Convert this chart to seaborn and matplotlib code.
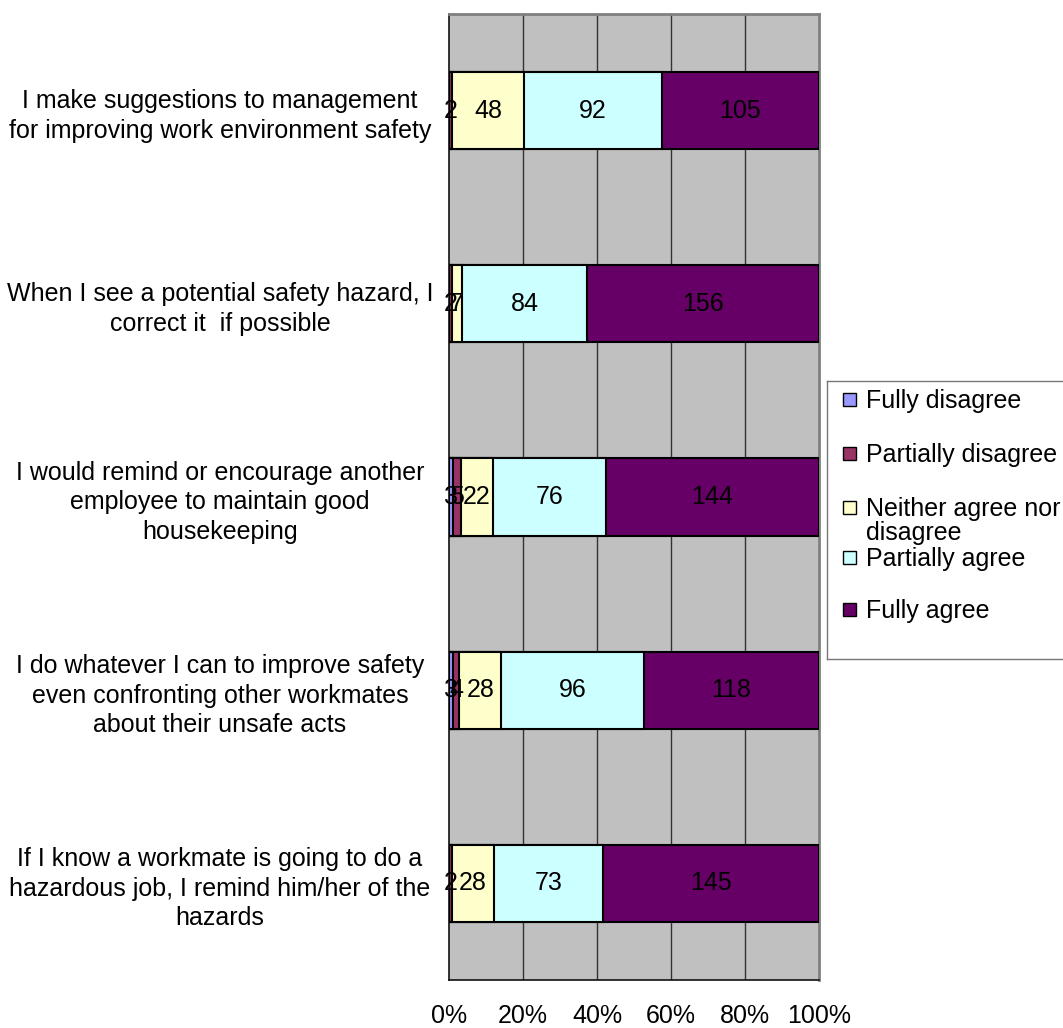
import numpy as np
import pandas as pd
import matplotlib
matplotlib.use("Agg")
import matplotlib.pyplot as plt
from matplotlib.patches import Rectangle
import seaborn as sns

# Survey items (top to bottom)
items = [
    "I make suggestions to management\nfor improving work environment safety",
    "When I see a potential safety hazard, I\ncorrect it  if possible",
    "I would remind or encourage another\nemployee to maintain good\nhousekeeping",
    "I do whatever I can to improve safety\neven confronting other workmates\nabout their unsafe acts",
    "If I know a workmate is going to do a\nhazardous job, I remind him/her of the\nhazards",
]

responses = ["Fully disagree", "Partially disagree", "Neither agree nor\ndisagree",
             "Partially agree", "Fully agree"]

# Response counts per item
fully_disagree = [0, 0, 3, 3, 0]
partially_disagree = [2, 2, 5, 4, 2]
neither = [48, 7, 22, 28, 28]
partially_agree = [92, 84, 76, 96, 73]
fully_agree = [105, 156, 144, 118, 145]

colors = ["#9999FF", "#993366", "#FFFFCC", "#CCFFFF", "#660066"]
xtick_labels = ["0%", "20%", "40%", "60%", "80%", "100%"]

counts = np.array([fully_disagree, partially_disagree, neither,
                   partially_agree, fully_agree], dtype=float).T
totals = counts.sum(axis=1, keepdims=True)
pct = counts / totals * 100
cum = np.cumsum(pct, axis=1)

df = pd.DataFrame({"item": items})
for j in range(len(responses)):
    df[f"cum{j}"] = cum[:, j]

sns.set_style("white")
plt.rcParams["font.family"] = ["Liberation Sans", "DejaVu Sans"]
plt.rcParams["text.color"] = "black"
plt.rcParams["xtick.labelcolor"] = "black"
plt.rcParams["ytick.labelcolor"] = "black"

FS = 18

fig = plt.figure(figsize=(10.63, 10.28), dpi=100)
W, H = 1063, 1028
ax = fig.add_axes([449 / W, 1 - 980 / H, (819 - 449) / W, (980 - 14) / H])
ax.set_facecolor("#C0C0C0")

# Stacked bars: draw cumulative totals from the widest down
for j in reversed(range(len(responses))):
    sns.barplot(data=df, x=f"cum{j}", y="item", orient="h", color=colors[j],
                saturation=1, edgecolor="black", linewidth=1.5, width=0.4,
                errorbar=None, ax=ax, zorder=3)

# Segment labels with the counts
for i in range(len(items)):
    left = 0.0
    for j in range(len(responses)):
        w = pct[i, j]
        if counts[i, j] > 0:
            ax.text(left + w / 2, i, f"{int(counts[i, j])}", ha="center",
                    va="center", fontsize=FS, color="black", zorder=5)
        left += w

ax.set_xlim(0, 100)
ax.set_ylim(len(items) - 0.5, -0.5)
ax.set_xlabel("")
ax.set_ylabel("")

# Vertical grid lines
for gx in [20, 40, 60, 80]:
    ax.axvline(gx, color="#333333", linewidth=1.0, zorder=1)

ax.set_xticks([0, 20, 40, 60, 80, 100])
ax.set_xticklabels(xtick_labels, fontsize=FS)
ax.tick_params(axis="x", direction="out", length=7, width=1, color="#333333", pad=10)

# Category boundaries as ticks, item names at the centres
ax.set_yticks(np.arange(-0.5, len(items), 1.0))
ax.set_yticklabels([])
ax.set_yticks(np.arange(len(items)), minor=True)
ax.set_yticklabels(items, minor=True, fontsize=FS, ha="center",
                   multialignment="center", linespacing=1.3)
ax.tick_params(axis="y", which="major", direction="out", length=7, width=1,
               color="#333333")
ax.tick_params(axis="y", which="minor", length=0, pad=(449 - 220) / (100 / 72))

for side in ["left", "bottom"]:
    ax.spines[side].set_color("#111111")
    ax.spines[side].set_linewidth(1.2)
for side in ["top", "right"]:
    ax.spines[side].set_color("#808080")
    ax.spines[side].set_linewidth(2.0)
    ax.spines[side].set_visible(True)

# Legend box laid out in pixel units
lx0, ly0, lx1, ly1 = 827, 381, 1070, 659
lax = fig.add_axes([lx0 / W, 1 - ly1 / H, (lx1 - lx0) / W, (ly1 - ly0) / H])
lax.set_xlim(0, lx1 - lx0)
lax.set_ylim(ly1 - ly0, 0)
lax.set_xticks([])
lax.set_yticks([])
lax.set_facecolor("white")
for s in lax.spines.values():
    s.set_color("#777777")
    s.set_linewidth(1.0)
entry_y = [18, 72, 126, 176, 228]
for c, label, y in zip(colors, responses, entry_y):
    lax.add_patch(Rectangle((16, y - 6.5), 13, 13, facecolor=c,
                            edgecolor="black", linewidth=1.0))
    lax.text(39, y - 10, label, fontsize=FS, va="top", ha="left",
             linespacing=1.0)

fig.savefig("out.png", dpi=100)
